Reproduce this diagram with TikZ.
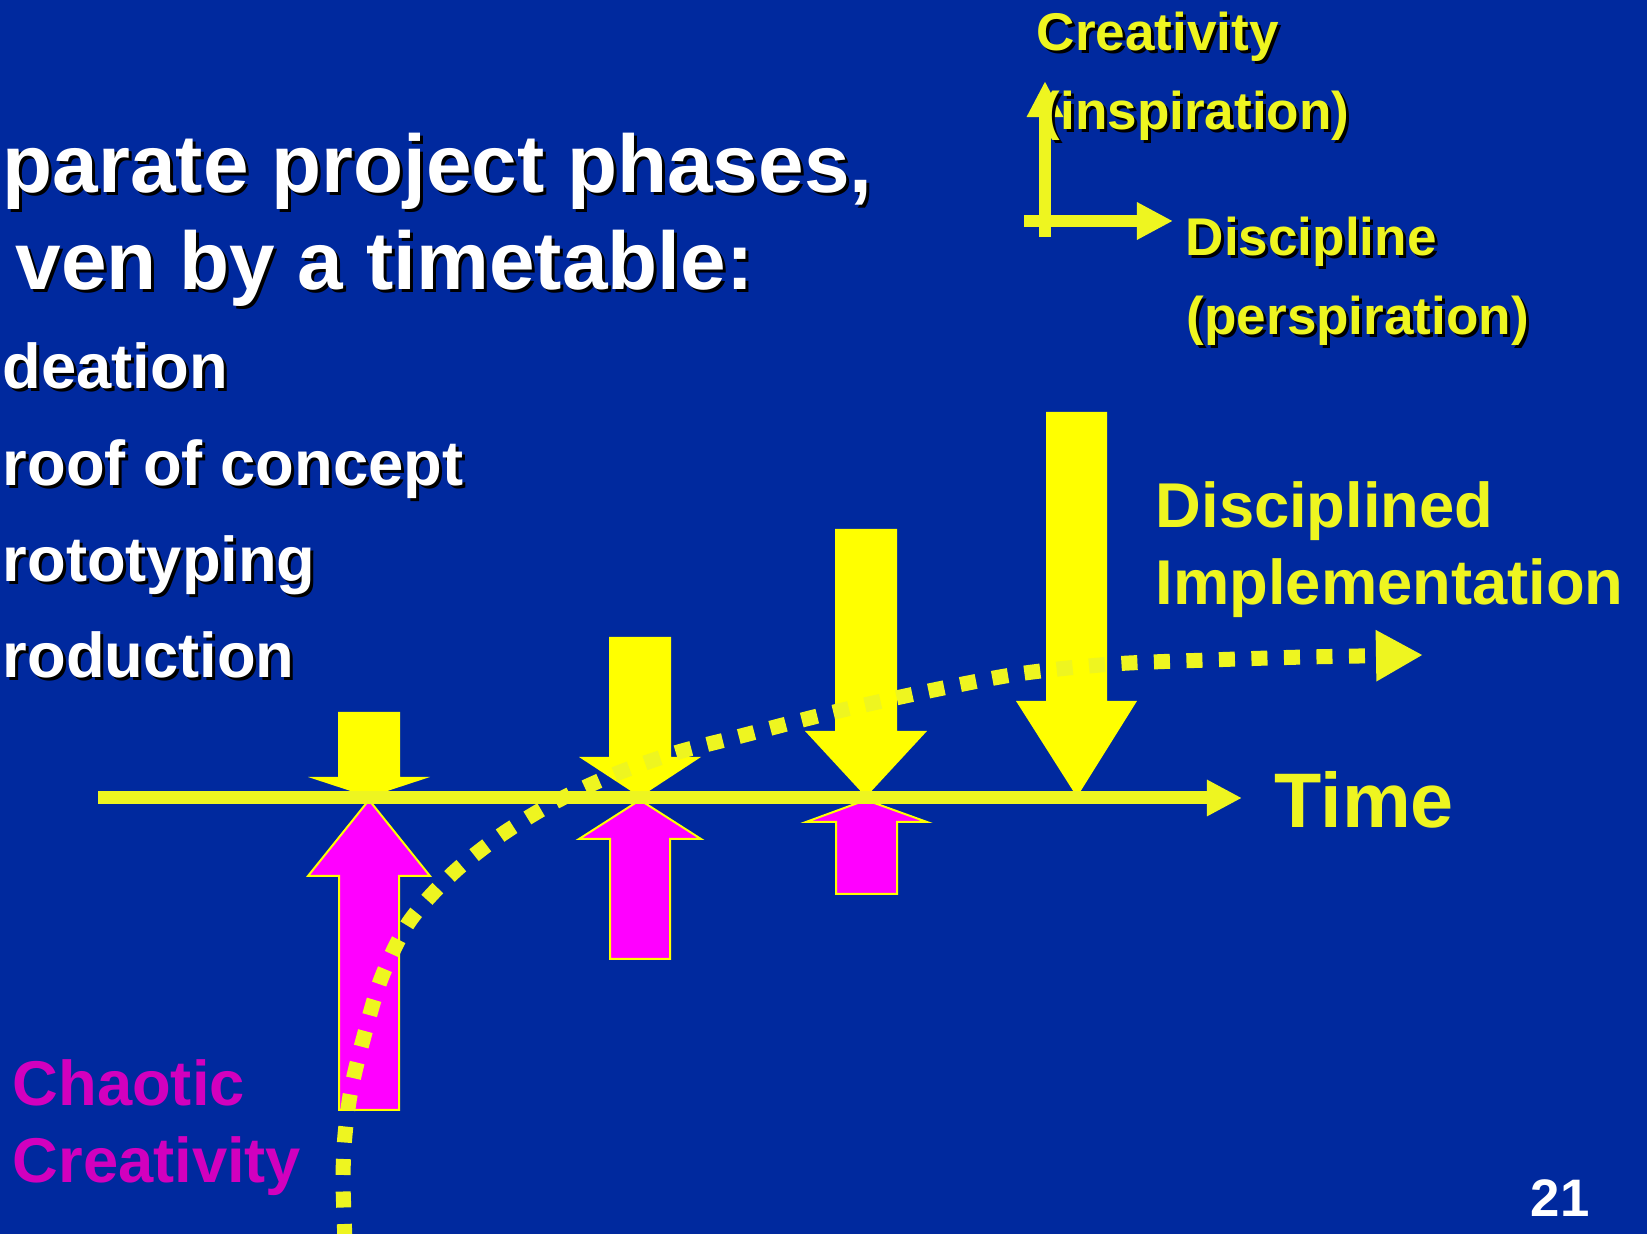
\documentclass[tikz,border=0pt]{standalone}
\usepackage{fontspec}
\setmainfont{Liberation Sans}
\usetikzlibrary{arrows.meta}

\definecolor{slideblue}{RGB}{0,41,158}
\definecolor{lineyellow}{RGB}{238,245,32}
\definecolor{phaseyellow}{RGB}{255,255,0}
\definecolor{chaosmagenta}{RGB}{255,0,255}
\definecolor{chaostext}{RGB}{210,0,190}

% text with a dark drop shadow
\newcommand{\shadownode}[4]{%
  \node[#2, text=black, xshift=0.03cm, yshift=-0.03cm] at #3 {#4};
  \node[#2] (#1) at #3 {#4};}

\begin{document}
\begin{tikzpicture}[x=0.01cm, y=-0.01cm,
  titletext/.style={anchor=base west, inner sep=0pt, text=white, font=\bfseries\fontsize{23.3}{28}\selectfont},
  itemtext/.style={anchor=base west, inner sep=0pt, text=white, font=\bfseries\fontsize{18}{22}\selectfont},
  legendtext/.style={anchor=base west, inner sep=0pt, text=lineyellow, font=\bfseries\fontsize{15.1}{18}\selectfont},
  labeltext/.style={anchor=base west, inner sep=0pt, font=\bfseries\fontsize{18}{22}\selectfont}]

\useasboundingbox (0,0) rectangle (1647,1234);
\fill[slideblue] (0,0) rectangle (1647,1234);

% Title and phases
\shadownode{title1}{titletext}{(2,193)}{parate project phases,}
\shadownode{title2}{titletext}{(15,290)}{ven by a timetable:}
\shadownode{ideation}{itemtext}{(2,389)}{deation}
\shadownode{concept}{itemtext}{(2,486)}{roof of concept}
\shadownode{prototyping}{itemtext}{(2,582)}{rototyping}
\shadownode{production}{itemtext}{(2,678)}{roduction}

% Legend axes
\coordinate (L0) at (1045,237);
\coordinate (L1) at (1045,81);
\coordinate (L2) at (1024,221);
\coordinate (L3) at (1173,221);
\draw[lineyellow, line width=0.12cm, -{Triangle[length=0.36cm, width=0.34cm]}] (L0) -- (L1);
\draw[lineyellow, line width=0.12cm, -{Triangle[length=0.36cm, width=0.35cm]}] (L2) -- (L3);
\shadownode{creativity}{legendtext}{(1036,51)}{Creativity}
\shadownode{inspiration}{legendtext}{(1042,130)}{(inspiration)}
\shadownode{discipline}{legendtext}{(1185,256)}{Discipline}
\shadownode{perspiration}{legendtext}{(1186,335)}{(perspiration)}

% Discipline pushing down
\fill[phaseyellow] (338,712) -- (400,712) -- (400,777) -- (430,777) -- (369,797) -- (308,777) -- (338,777) -- cycle;
\fill[phaseyellow] (609,637) -- (671,637) -- (671,757) -- (701,757) -- (640,797) -- (579,757) -- (609,757) -- cycle;
\fill[phaseyellow] (835,529) -- (897,529) -- (897,731) -- (927,731) -- (866,797) -- (805,731) -- (835,731) -- cycle;
\fill[phaseyellow] (1046,412) -- (1107,412) -- (1107,701) -- (1137,701) -- (1077,797) -- (1016,701) -- (1046,701) -- cycle;

% Creativity pushing up
\filldraw[fill=chaosmagenta, draw=phaseyellow, line width=0.02cm] (369,800) -- (430,876) -- (399,876) -- (399,1110) -- (339,1110) -- (339,876) -- (308,876) -- cycle;
\filldraw[fill=chaosmagenta, draw=phaseyellow, line width=0.02cm] (640,800) -- (701,839) -- (670,839) -- (670,959) -- (610,959) -- (610,839) -- (579,839) -- cycle;
\filldraw[fill=chaosmagenta, draw=phaseyellow, line width=0.02cm] (866,800) -- (927,822) -- (897,822) -- (897,894) -- (836,894) -- (836,822) -- (806,822) -- cycle;

% Time axis
\coordinate (T0) at (98,798);
\coordinate (T1) at (1242,798);
\draw[lineyellow, line width=0.13cm, -{Triangle[length=0.35cm, width=0.34cm]}] (T0) -- (T1);
\node[labeltext, text=lineyellow, font=\bfseries\fontsize{22}{26}\selectfont] (time) at (1274,828) {Time};

% Path from chaos to discipline
\draw[lineyellow, line width=0.15cm, dash pattern=on 0.16cm off 0.165cm, -{Triangle[length=0.47cm, width=0.48cm]}]
  plot[smooth] coordinates {(345,1240) (343,1180) (345,1135) (351,1090) (363,1040) (381,979) (409,922) (452,874) (501,835) (555,802) (613,775) (675,753) (737,737) (830,713) (924,692) (1018,674) (1113,664) (1209,660) (1306,657) (1423,655)};

\node[labeltext, text=lineyellow] (disciplined) at (1155,528) {Disciplined};
\node[labeltext, text=lineyellow] (implementation) at (1155,605) {Implementation};
\node[labeltext, text=chaostext] (chaotic) at (12,1106) {Chaotic};
\node[labeltext, text=chaostext] (chaoscreativity) at (12,1183) {Creativity};

\node[anchor=base west, inner sep=0pt, text=white, font=\bfseries\fontsize{15}{18}\selectfont] (pagenum) at (1530,1217) {21};
\end{tikzpicture}
\end{document}
